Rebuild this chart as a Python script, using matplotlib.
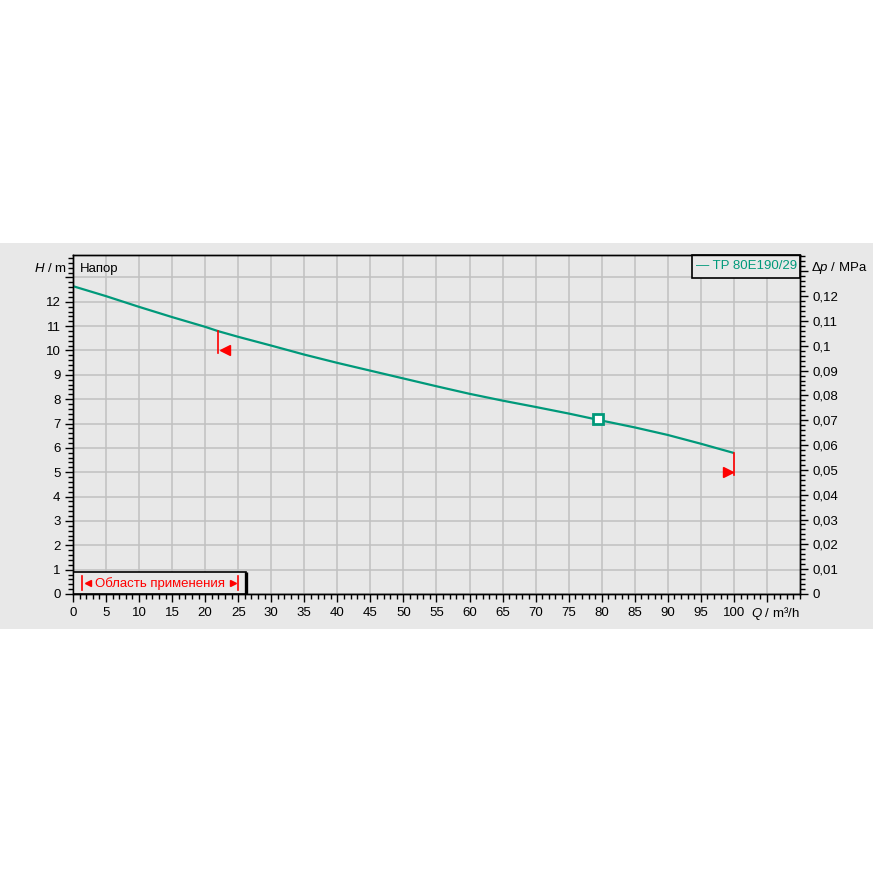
import matplotlib
matplotlib.use("Agg")
import matplotlib.pyplot as plt
from matplotlib.patches import Rectangle
from matplotlib.ticker import MultipleLocator, FixedLocator, FuncFormatter

plt.rcParams["font.family"] = ["Liberation Sans", "DejaVu Sans"]
plt.rcParams["mathtext.fontset"] = "custom"
plt.rcParams["mathtext.rm"] = "Liberation Sans"
plt.rcParams["mathtext.it"] = "Liberation Sans:italic"

# Pump curve TP 80E190/29: flow Q (m³/h) vs head H (m)
flow = [0, 5, 10, 15, 20, 22, 25, 30, 35, 40, 45, 50, 55, 60, 65, 70, 75, 80, 85, 90, 95, 100]
head = [12.64, 12.23, 11.79, 11.37, 10.97, 10.79, 10.56, 10.20, 9.83, 9.49, 9.17, 8.85,
        8.53, 8.22, 7.94, 7.68, 7.41, 7.12, 6.84, 6.53, 6.17, 5.79]

# Duty point
duty_q = 79.4
duty_h = 7.19

# Application range limits (flow, head on curve, head of limit marker)
range_start_q, range_start_h, range_start_mark = 22, 10.79, 10.0
range_end_q, range_end_h, range_end_mark = 100, 5.79, 5.0

series_name = "TP 80E190/29"
x_ticks = [0, 5, 10, 15, 20, 25, 30, 35, 40, 45, 50, 55, 60, 65, 70, 75, 80, 85, 90, 95, 100, 105]
h_ticks = list(range(0, 14))
dp_ticks = [0.0, 0.01, 0.02, 0.03, 0.04, 0.05, 0.06, 0.07, 0.08, 0.09, 0.10, 0.11, 0.12, 0.13]
m_to_mpa = 0.00981

TEAL = "#00997a"
RED = "#ff0000"
BG = "#e8e8e8"
GRID = "#c0c0c0"

W = H = 873
fig = plt.figure(figsize=(W / 100, H / 100), dpi=100)
fig.patch.set_facecolor("white")


def fx(px):
    return px / W


def fy(py):
    return 1 - py / H


# grey band behind the chart
fig.patches.append(Rectangle((0, fy(629)), 1, fy(243) - fy(629), transform=fig.transFigure,
                             facecolor=BG, edgecolor="none", zorder=-10))

ax = fig.add_axes([fx(73), fy(594), fx(800) - fx(73), fy(255) - fy(594)])
ax.set_facecolor(BG)
xmax, ymax = 110, 13.92
ax.set_xlim(0, xmax)
ax.set_ylim(0, ymax)

ax.xaxis.set_major_locator(FixedLocator(x_ticks))
ax.xaxis.set_minor_locator(MultipleLocator(1))
ax.yaxis.set_major_locator(FixedLocator(h_ticks))
ax.yaxis.set_minor_locator(MultipleLocator(0.2))
ax.xaxis.set_major_formatter(FuncFormatter(lambda v, p: "" if v > 100 else f"{v:g}"))
ax.yaxis.set_major_formatter(FuncFormatter(lambda v, p: "" if v > 12 else f"{v:g}"))
ax.grid(True, which="major", color=GRID, linewidth=1.1, zorder=0)
ax.set_axisbelow(True)
ax.tick_params(which="major", direction="out", length=6, width=1, labelsize=9.5, pad=3)
ax.tick_params(which="minor", direction="out", length=3.5, width=1)
for s in ax.spines.values():
    s.set_linewidth(1.0)
    s.set_color("black")

# right axis: pressure difference
ax2 = ax.twinx()
ax2.set_ylim(0, ymax * m_to_mpa)
ax2.yaxis.set_major_locator(FixedLocator(dp_ticks))
ax2.yaxis.set_minor_locator(MultipleLocator(0.002))
ax2.yaxis.set_major_formatter(FuncFormatter(
    lambda v, p: "" if v > 0.125 else ("0" if v == 0 else f"{v:.2f}".rstrip("0").replace(".", ","))))
ax2.tick_params(which="major", direction="out", length=6, width=1, labelsize=9.5, pad=3)
ax2.tick_params(which="minor", direction="out", length=3.5, width=1)
for s in ax2.spines.values():
    s.set_linewidth(1.0)

# pump curve
ax.plot(flow, head, color=TEAL, linewidth=1.6, zorder=5, solid_capstyle="butt")
ax.plot([duty_q], [duty_h], marker="s", markersize=7, markerfacecolor="white",
        markeredgecolor=TEAL, markeredgewidth=2, zorder=6)

# application range limits
ax.plot([range_start_q, range_start_q], [range_start_h, range_start_mark - 0.1], color=RED, lw=1.2, zorder=6)
ax.plot([range_start_q + 0.95], [range_start_mark], marker="<", markersize=7, color=RED, zorder=6)
ax.plot([range_end_q, range_end_q], [range_end_h, range_end_mark - 0.1], color=RED, lw=1.2, zorder=6)
ax.plot([range_end_q - 0.95], [range_end_mark], marker=">", markersize=7, color=RED, zorder=6)

# axis labels
fig.text(fx(67), fy(268), r"$H$ / m", ha="right", va="center", fontsize=9.5)
fig.text(fx(811), fy(268), r"$\mathit{\Delta p}$ / MPa", ha="left", va="center", fontsize=9.5)
fig.text(fx(800), fy(613), r"$Q$ / m³/h", ha="right", va="center", fontsize=9.5)
ax.text(1.0, 13.35, "Напор", ha="left", va="center", fontsize=9.5, color="black")

# legend box
ax.add_patch(Rectangle((93.7, 12.99), xmax - 93.7, ymax - 12.99, facecolor=BG,
                       edgecolor="black", lw=1.2, zorder=7, clip_on=False))
ax.text(101.9, 13.45, "— " + series_name, ha="center", va="center", fontsize=9.5,
        color=TEAL, zorder=8)

# application range box
box_w, box_h = 26.2, 0.9
ax.add_patch(Rectangle((0, 0), box_w, box_h, facecolor=BG, edgecolor="black", lw=1.2, zorder=7))
ax.plot([box_w, box_w], [0, box_h], color="black", lw=2.4, zorder=8, solid_capstyle="butt")
ax.plot([1.4, 1.4], [0.15, 0.75], color=RED, lw=1.2, zorder=8)
ax.plot([2.2], [0.45], marker="<", markersize=5, color=RED, zorder=8)
ax.plot([24.2], [0.45], marker=">", markersize=5, color=RED, zorder=8)
ax.plot([24.9, 24.9], [0.15, 0.75], color=RED, lw=1.2, zorder=8)
ax.text(13.1, 0.45, "Область применения", ha="center", va="center", fontsize=9.5,
        color=RED, zorder=8)

fig.savefig("out.png", dpi=100, facecolor=fig.get_facecolor())
